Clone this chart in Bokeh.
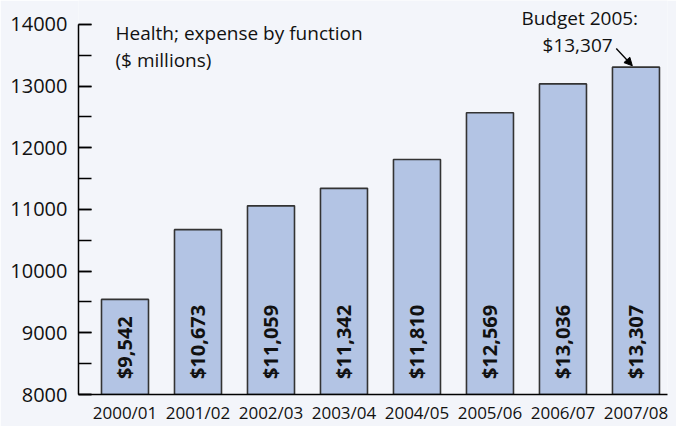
from math import pi
from bokeh.plotting import figure
from bokeh.models import (Range1d, FixedTicker, SingleIntervalTicker, Label,
                          Arrow, NormalHead, ColumnDataSource)
from bokeh.core.properties import value
from bokeh.embed import file_html
from bokeh.resources import INLINE

categories = ["2000/01", "2001/02", "2002/03", "2003/04",
              "2004/05", "2005/06", "2006/07", "2007/08"]
values = [9542, 10673, 11059, 11342, 11810, 12569, 13036, 13307]
bar_labels = ["$9,542", "$10,673", "$11,059", "$11,342",
              "$11,810", "$12,569", "$13,036", "$13,307"]
y_min, y_max, y_step = 8000, 14000, 1000

FONT = "Open Sans"
BG = "#f3f5fa"

xs = list(range(len(categories)))
src = ColumnDataSource(dict(x=xs, top=values, label=bar_labels,
                            ly=[y_min + 250] * len(xs)))

p = figure(width=676, height=426, output_backend="svg", toolbar_location=None,
           x_range=Range1d(-0.637, 7.432), y_range=Range1d(y_min, y_max + 388),
           min_border_left=78, min_border_right=9, min_border_top=0,
           min_border_bottom=31)
p.background_fill_color = BG
p.border_fill_color = BG
p.outline_line_color = None
p.grid.visible = False

p.vbar(x="x", top="top", bottom=y_min, width=0.644, source=src,
       fill_color="#b3c4e4", line_color="#333333", line_width=1.6)

p.text(x="x", y="ly", text="label", source=src, angle=pi / 2,
       text_align="left", text_baseline="middle",
       text_font=value(FONT), text_font_style="bold",
       text_font_size="20px", text_color="#111111")

# y axis
ya = p.yaxis[0]
ya.ticker = SingleIntervalTicker(interval=y_step, num_minor_ticks=2)
ya.bounds = (y_min, y_max)
ya.axis_line_color = "black"
ya.axis_line_width = 1.5
ya.major_tick_in = 13
ya.major_tick_out = 0
ya.minor_tick_in = 13
ya.minor_tick_out = 0
ya.major_tick_line_color = "black"
ya.minor_tick_line_color = "black"
ya.major_tick_line_width = 1.5
ya.minor_tick_line_width = 1.5
ya.major_label_standoff = 11
ya.major_label_text_font = FONT
ya.major_label_text_font_size = "20px"
ya.major_label_text_color = "#111111"

# x axis
xa = p.xaxis[0]
xa.ticker = FixedTicker(ticks=xs)
xa.major_label_overrides = {i: c for i, c in enumerate(categories)}
xa.major_tick_line_color = None
xa.minor_tick_line_color = None
xa.axis_line_color = "black"
xa.axis_line_width = 1.5
xa.major_label_standoff = 0
xa.major_label_text_font = FONT
xa.major_label_text_font_size = "17px"
xa.major_label_text_line_height = 1.0
xa.major_label_text_color = "#111111"

def lab(x, y, t, align="left"):
    p.add_layout(Label(x=x, y=y, text=t, text_align=align,
                       text_baseline="middle", text_font=FONT,
                       text_font_size="19px", text_color="#111111"))

lab(-0.13, 13854, "Health; expense by function")
lab(-0.13, 13430, "($ millions)")
lab(6.23, 14098, "Budget 2005:", "center")
lab(6.20, 13660, "$13,307", "center")

p.add_layout(Arrow(end=NormalHead(size=8, fill_color="black", line_color="black"),
                   x_start=6.73, y_start=13610, x_end=6.95, y_end=13330,
                   line_color="black", line_width=1.3))

open("out.html", "w").write(file_html(p, INLINE))
